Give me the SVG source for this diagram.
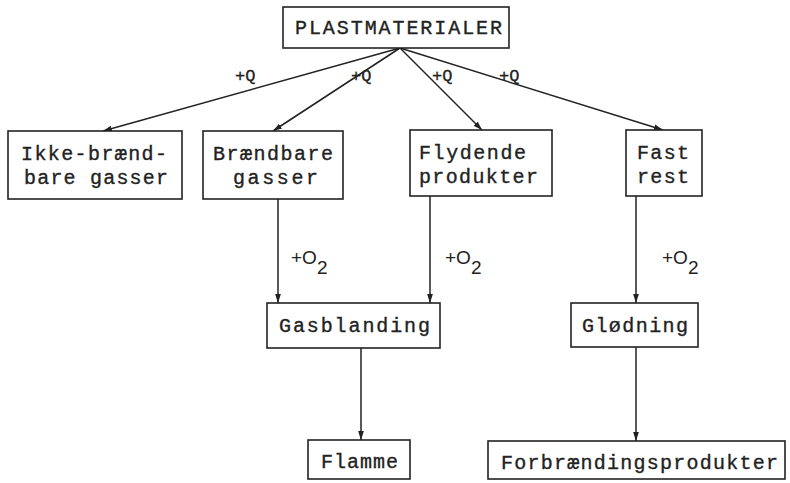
<svg xmlns="http://www.w3.org/2000/svg" width="790" height="483" viewBox="0 0 790 483">
<defs>
<style>
.box{fill:#fff;stroke:#222;stroke-width:1.6}
.t{font-family:"Liberation Mono","DejaVu Sans Mono",monospace;font-size:20px;fill:#222;stroke:#222;stroke-width:0.35}
.q{font-family:"Liberation Mono","DejaVu Sans Mono",monospace;font-size:17px;fill:#222;stroke:#222;stroke-width:0.3}
.o{font-family:"Liberation Sans","DejaVu Sans",sans-serif;font-size:19px;fill:#222}
.c{stroke:#222;stroke-width:1.5;fill:none;marker-end:url(#ah)}
</style>
<marker id="ah" viewBox="0 0 10 10" refX="10" refY="5" markerWidth="9" markerHeight="9" markerUnits="userSpaceOnUse" orient="auto">
<path d="M0,1.8 L10,5 L0,8.2 z" fill="#222"/>
</marker>
</defs>
<rect width="790" height="483" fill="#fff"/>
<g id="connectors">
<line class="c" x1="400" y1="48" x2="103" y2="131"/>
<line class="c" x1="400" y1="48" x2="273" y2="131"/>
<line class="c" x1="400" y1="48" x2="482" y2="130"/>
<line class="c" x1="400" y1="48" x2="663" y2="130"/>
<line class="c" x1="278" y1="199" x2="278" y2="303"/>
<line class="c" x1="430" y1="196" x2="430" y2="303"/>
<line class="c" x1="636" y1="196" x2="636" y2="303"/>
<line class="c" x1="361" y1="348" x2="361" y2="440"/>
<line class="c" x1="636" y1="347" x2="636" y2="441"/>
<text class="q" x="235" y="81">+Q</text>
<text class="q" x="351" y="81">+Q</text>
<text class="q" x="432" y="81">+Q</text>
<text class="q" x="499" y="81">+Q</text>
<text class="o" x="291" y="264">+O<tspan dy="10">2</tspan></text>
<text class="o" x="445" y="264">+O<tspan dy="10">2</tspan></text>
<text class="o" x="662" y="264">+O<tspan dy="10">2</tspan></text>
</g>
<g id="plastmaterialer">
<rect class="box" x="283" y="7" width="226" height="41"/>
<text class="t" x="295" y="34" textLength="207" lengthAdjust="spacing">PLASTMATERIALER</text>
</g>
<g id="ikke-braendbare">
<rect class="box" x="8" y="131" width="174" height="68"/>
<text class="t" x="21" y="160" textLength="146" lengthAdjust="spacing">Ikke-brænd-</text>
<text class="t" x="24" y="184" textLength="144" lengthAdjust="spacing">bare gasser</text>
</g>
<g id="braendbare">
<rect class="box" x="203" y="131" width="140" height="68"/>
<text class="t" x="213" y="160" textLength="120" lengthAdjust="spacing">Brændbare</text>
<text class="t" x="233" y="184" textLength="85" lengthAdjust="spacing">gasser</text>
</g>
<g id="flydende">
<rect class="box" x="410" y="130" width="142" height="66"/>
<text class="t" x="419" y="159" textLength="107" lengthAdjust="spacing">Flydende</text>
<text class="t" x="419" y="183" textLength="119" lengthAdjust="spacing">produkter</text>
</g>
<g id="fast-rest">
<rect class="box" x="626" y="130" width="76" height="66"/>
<text class="t" x="637" y="159" textLength="52" lengthAdjust="spacing">Fast</text>
<text class="t" x="637" y="183" textLength="52" lengthAdjust="spacing">rest</text>
</g>
<g id="gasblanding">
<rect class="box" x="267" y="303" width="173" height="45"/>
<text class="t" x="279" y="332" textLength="151" lengthAdjust="spacing">Gasblanding</text>
</g>
<g id="glodning">
<rect class="box" x="571" y="303" width="127" height="44"/>
<text class="t" x="582" y="332" textLength="106" lengthAdjust="spacing">Glødning</text>
</g>
<g id="flamme">
<rect class="box" x="308" y="440" width="102" height="39"/>
<text class="t" x="321" y="468" textLength="77" lengthAdjust="spacing">Flamme</text>
</g>
<g id="forbraendingsprodukter">
<rect class="box" x="488" y="441" width="297" height="38"/>
<text class="t" x="501" y="469" textLength="277" lengthAdjust="spacing">Forbrændingsprodukter</text>
</g>
</svg>
